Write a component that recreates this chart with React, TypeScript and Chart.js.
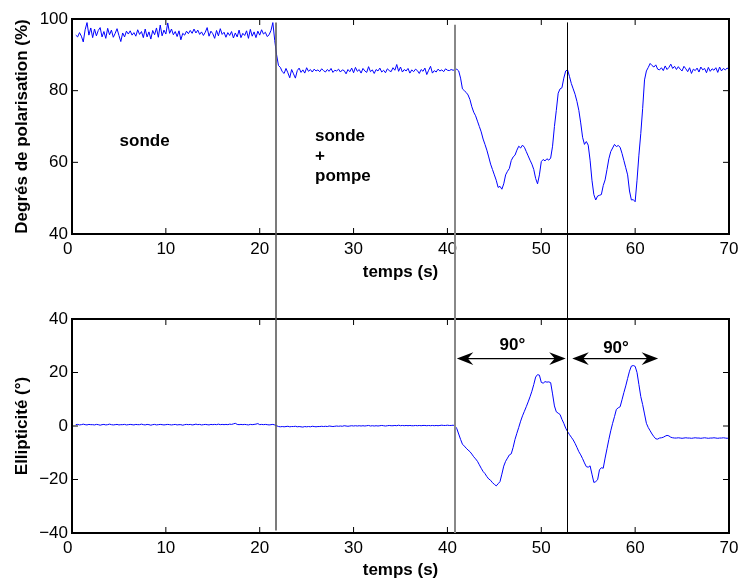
import React, { useEffect, useRef } from "react";
import { Chart, registerables } from "chart.js";

Chart.register(...registerables);

// ---- data -----------------------------------------------------------------
const T_START = 0.4; // s, first sample
const T_STEP = 0.2; // s, sampling step

// Degré de polarisation (%)
const polarisation = [
  95.5, 95.0, 96.2, 95.2, 93.6, 97.0, 99.0, 95.5, 97.5, 94.8,
  97.2, 95.3, 96.8, 97.6, 95.0, 96.5, 94.6, 97.4, 95.6, 96.9,
  94.9, 96.0, 97.3, 95.4, 93.7, 96.1, 95.0, 96.6, 95.8, 96.7,
  95.5, 96.2, 95.2, 97.0, 95.7, 96.5, 94.8, 97.2, 95.0, 96.4,
  94.4, 96.8, 95.6, 97.5, 94.9, 98.3, 95.3, 96.9, 95.8, 98.9,
  96.0, 97.2, 95.6, 96.5, 95.1, 96.7, 94.2, 96.0, 95.5, 96.6,
  95.9, 96.8, 96.0, 97.2, 96.1, 96.9, 95.7, 96.4, 95.4, 96.3,
  97.6, 95.2, 96.6, 95.9, 94.6, 96.8, 95.3, 97.3, 95.7, 96.3,
  94.9, 96.2, 95.4, 96.5, 94.7, 96.1, 95.0, 96.9, 94.8, 96.0,
  95.4, 96.7, 94.6, 97.1, 95.2, 96.4, 94.8, 96.6, 95.5, 97.0,
  95.8, 96.3, 95.1, 95.6, 96.8, 99.0, 94.0, 90.0, 87.0, 86.5,
  85.3, 84.8, 86.2, 85.0, 83.6, 85.9, 84.7, 83.5, 85.6, 86.3,
  85.1, 85.8, 84.9, 86.4, 85.4, 85.9, 85.2, 86.0, 85.5, 85.8,
  85.3, 86.1, 85.6, 85.2, 85.9, 85.4, 86.2, 85.1, 85.7, 85.5,
  86.0, 85.2, 85.8, 85.6, 84.7, 85.9, 85.3, 86.3, 85.0, 86.5,
  85.4, 85.9, 84.9, 86.2, 85.5, 85.1, 86.7, 85.3, 85.8, 84.8,
  85.9, 85.5, 86.3, 85.2, 85.7, 85.0, 86.1, 85.6, 85.3, 86.4,
  85.7, 87.3, 85.4, 86.6, 85.2, 85.9, 85.5, 86.2, 84.9, 85.8,
  85.3, 86.0, 85.6, 84.8, 85.9, 85.4, 86.3, 84.5, 85.7, 86.8,
  84.9, 85.6, 85.2, 86.0, 85.5, 85.8, 85.3, 86.1, 85.7, 85.6,
  85.9, 85.7, 85.8, 86.0, 85.5, 83.5, 80.5, 80.0, 79.5, 78.8,
  77.5, 75.5, 74.0, 73.0, 71.5, 70.0, 68.5, 66.5, 65.0, 63.4,
  61.5, 59.5, 58.0, 56.5, 55.0, 53.0, 53.3, 52.5, 54.0, 56.5,
  57.5, 58.3, 60.5, 61.5, 62.0, 63.4, 64.5, 64.0, 64.8, 64.2,
  63.0, 61.8, 60.6, 59.5, 58.0, 55.5, 54.0, 56.5, 60.2, 60.8,
  60.4, 61.0, 60.6, 61.2, 64.5, 70.0, 74.5, 79.3, 80.5, 80.8,
  83.5, 85.5, 85.8, 84.0, 82.0, 80.5, 79.0, 77.0, 74.5, 71.0,
  67.0, 65.0, 65.8, 64.8, 60.6, 55.0, 51.0, 49.5, 50.6, 50.8,
  51.0, 53.5, 55.1, 58.0, 61.0, 63.0, 64.0, 65.0, 64.4, 64.7,
  64.2, 62.5, 60.5, 58.5, 56.5, 52.0, 49.5, 49.6, 49.0, 55.0,
  62.0, 68.0, 75.0, 83.0, 85.5, 86.5, 87.6, 87.0, 86.6, 87.2,
  86.0, 85.8, 86.4, 85.6, 86.9, 85.9, 86.5, 87.4, 86.2, 86.8,
  85.9, 86.7, 86.0, 85.5, 86.8, 86.1, 85.3, 86.4, 84.8, 86.0,
  85.6, 86.3, 85.2, 86.6, 85.8, 86.2, 85.0, 86.5, 85.4, 86.1,
  85.7, 86.4, 85.1, 86.6, 85.5, 86.2, 85.8, 86.3, 85.9,
];

// Ellipticité (°)
const ellipticite = [
  0.5, 0.6, 0.4, 0.5, 0.7, 0.5, 0.4, 0.6, 0.5, 0.5,
  0.4, 0.6, 0.5, 0.3, 0.5, 0.6, 0.4, 0.5, 0.7, 0.5,
  0.4, 0.5, 0.6, 0.4, 0.5, 0.5, 0.6, 0.4, 0.5, 0.6,
  0.5, 0.4, 0.6, 0.5, 0.5, 0.7, 0.5, 0.4, 0.6, 0.5,
  0.3, 0.5, 0.6, 0.4, 0.5, 0.6, 0.5, 0.4, 0.5, 0.6,
  0.5, 0.4, 0.5, 0.6, 0.4, 0.5, 0.5, 0.3, 0.5, 0.6,
  0.5, 0.6, 0.4, 0.5, 0.7, 0.5, 0.6, 0.4, 0.5, 0.6,
  0.5, 0.4, 0.6, 0.5, 0.6, 0.5, 0.7, 0.5, 0.6, 0.5,
  0.6, 0.5, 0.7, 0.6, 0.8, 1.0, 0.6, 0.5, 0.6, 0.5,
  0.6, 0.5, 0.4, 0.6, 0.5, 0.6, 0.7, 0.9, 0.5, 0.6,
  0.5, 0.6, 0.5, 0.4, 0.5, 0.6, 0.4, 0.1, -0.2, -0.3,
  -0.2, -0.3, -0.2, -0.1, -0.3, -0.2, -0.2, -0.1, -0.3, -0.2,
  -0.3, -0.4, -0.2, -0.3, -0.2, -0.3, -0.1, -0.2, -0.3, -0.2,
  -0.2, -0.1, -0.2, -0.1, -0.2, 0.0, -0.1, -0.2, -0.1, 0.0,
  -0.1, 0.0, -0.1, 0.1, 0.0, -0.1, 0.0, 0.1, 0.0, 0.1,
  0.0, 0.1, 0.0, 0.1, 0.0, 0.1, 0.2, 0.0, 0.1, 0.0,
  0.1, 0.0, 0.1, 0.2, 0.1, 0.0, 0.1, 0.2, 0.1, 0.1,
  0.2, 0.1, 0.3, 0.1, 0.2, 0.1, 0.2, 0.1, 0.2, 0.1,
  0.1, 0.2, 0.1, 0.2, 0.1, 0.2, 0.2, 0.1, 0.2, 0.1,
  0.2, 0.1, 0.2, 0.1, 0.2, 0.3, 0.2, 0.2, 0.3, 0.2,
  0.2, 0.3, 0.1, -1.0, -3.0, -5.0, -6.8, -7.5, -8.3, -9.0,
  -9.6, -10.5, -11.5, -12.3, -13.2, -14.5, -15.8, -17.0, -17.8, -18.9,
  -19.8, -20.3, -21.2, -21.8, -22.4, -21.6, -20.8, -18.0, -15.0, -13.2,
  -12.0, -10.8, -10.4, -8.0, -5.0, -2.7, -0.5, 1.8, 3.8, 5.5,
  7.2, 9.0, 10.9, 13.0, 15.5, 18.3, 19.2, 19.0, 16.3, 16.0,
  16.6, 16.4, 16.5, 16.2, 12.0, 7.5, 5.3, 4.8, 4.3, 2.5,
  1.0, -0.8, -2.1, -3.2, -4.2, -5.2, -6.5, -8.0, -9.6, -10.8,
  -12.2, -13.8, -15.2, -15.4, -14.9, -18.0, -21.1, -20.8, -20.1, -16.4,
  -15.6, -15.8, -12.0, -8.5, -5.0, -1.8, 1.0, 3.5, 6.2, 6.8,
  7.2, 9.8, 12.5, 15.0, 17.8, 20.5, 22.4, 22.6, 22.3, 20.0,
  15.5, 11.0, 8.0, 4.5, 1.0, -0.6, -1.8, -3.0, -4.0, -4.8,
  -4.9, -4.5, -4.4, -4.2, -3.8, -3.5, -3.7, -4.2, -4.4, -4.5,
  -4.5, -4.4, -4.5, -4.6, -4.5, -4.4, -4.5, -4.5, -4.6, -4.5,
  -4.4, -4.5, -4.5, -4.6, -4.5, -4.4, -4.5, -4.6, -4.5, -4.5,
  -4.4, -4.5, -4.6, -4.5, -4.5, -4.4, -4.5, -4.6, -4.5,
];

const timeTicks = [0, 10, 20, 30, 40, 50, 60, 70];
const polarisationTicks = [40, 60, 80, 100];
const ellipticiteTicks = [-40, -20, 0, 20, 40];

// vertical event markers (s)
const eventTimes = [21.7, 40.8, 52.7];
const eventTopLevel = [99.05, 98.4, 99.05]; // where each marker starts (top panel, %)
const eventBottomLevel = [-39.1, -40, -40]; // where each marker ends (bottom panel, °)

// 90° rotation arrows (bottom panel)
const rotationFrom = [41.0, 53.3];
const rotationTo = [52.6, 62.45];
const rotationLabels = ["90°", "90°"];

// ---- styles ---------------------------------------------------------------
const FONT = '"Liberation Sans", Arial, Helvetica, sans-serif';
const FONT_SIZE = 17;
const eventColors = ["#5a5a5a", "#888888", "#000000"];
const eventWidths = [1.6, 2, 1];
const ARROW_LEVEL = 25.2;
const ARROW_LABEL_POS = [
  { t: 46.93, v: 28.3 },
  { t: 57.96, v: 27.4 },
];
const PHASE_TEXT = [
  { lines: ["sonde"], t: 7.74, v: 64.5, align: "center" as CanvasTextAlign },
  { lines: ["sonde", "+", "pompe"], t: 25.89, v: 65.9, align: "left" as CanvasTextAlign },
];

const times = polarisation.map((_, i) => Math.round((T_START + i * T_STEP) * 10) / 10);

const minusFmt = (v: number) => (v < 0 ? "\u2212" + Math.abs(v) : String(v));
// the "0" at the origin sits slightly left of the axis in the original
const timeFmt = (v: number) => (v === 0 ? "0\u2002" : String(v));

const framePlugin = {
  id: "frame",
  afterDatasetsDraw(chart: any) {
    const { ctx, chartArea } = chart;
    const { left, right, top, bottom } = chartArea;
    const xs = chart.scales.x;
    const ys = chart.scales.y;
    const TL = 6;
    ctx.save();
    ctx.strokeStyle = "#000";
    ctx.lineWidth = 1;
    ctx.beginPath();
    xs.ticks.forEach((t: any) => {
      const px = xs.getPixelForValue(t.value);
      ctx.moveTo(px, bottom);
      ctx.lineTo(px, bottom - TL);
      ctx.moveTo(px, top);
      ctx.lineTo(px, top + TL);
    });
    ys.ticks.forEach((t: any) => {
      const py = ys.getPixelForValue(t.value);
      ctx.moveTo(left, py);
      ctx.lineTo(left + TL, py);
      ctx.moveTo(right, py);
      ctx.lineTo(right - TL, py);
    });
    ctx.stroke();
    ctx.lineWidth = 2;
    ctx.strokeRect(left, top, right - left, bottom - top);
    ctx.restore();
  },
};

function eventPlugin(panel: "top" | "bottom") {
  return {
    id: "events-" + panel,
    afterDraw(chart: any) {
      const { ctx } = chart;
      const xs = chart.scales.x;
      const ys = chart.scales.y;
      ctx.save();
      eventTimes.forEach((t, i) => {
        const px = Math.round(xs.getPixelForValue(t)) + (eventWidths[i] === 1 ? 0.5 : 0);
        const y0 = panel === "top" ? ys.getPixelForValue(eventTopLevel[i]) : 0;
        const y1 = panel === "top" ? chart.height : ys.getPixelForValue(eventBottomLevel[i]);
        ctx.strokeStyle = eventColors[i];
        ctx.lineWidth = eventWidths[i];
        ctx.beginPath();
        ctx.moveTo(px, y0);
        ctx.lineTo(px, y1);
        ctx.stroke();
      });
      ctx.restore();
    },
  };
}

const phaseTextPlugin = {
  id: "phaseText",
  afterDraw(chart: any) {
    const { ctx } = chart;
    const xs = chart.scales.x;
    const ys = chart.scales.y;
    ctx.save();
    ctx.fillStyle = "#000";
    ctx.font = `bold ${FONT_SIZE}px ${FONT}`;
    ctx.textBaseline = "alphabetic";
    PHASE_TEXT.forEach((p) => {
      ctx.textAlign = p.align;
      const x = xs.getPixelForValue(p.t);
      const y = ys.getPixelForValue(p.v);
      p.lines.forEach((line, k) => ctx.fillText(line, x, y + k * 20));
    });
    ctx.restore();
  },
};

function drawHead(ctx: CanvasRenderingContext2D, tx: number, y: number, dir: number) {
  const L = 16.5;
  const W = 6.3;
  const N = 11;
  ctx.beginPath();
  ctx.moveTo(tx, y);
  ctx.lineTo(tx - dir * L, y - W);
  ctx.lineTo(tx - dir * N, y);
  ctx.lineTo(tx - dir * L, y + W);
  ctx.closePath();
  ctx.fill();
}

const arrowPlugin = {
  id: "arrows",
  afterDraw(chart: any) {
    const { ctx } = chart;
    const xs = chart.scales.x;
    const ys = chart.scales.y;
    ctx.save();
    ctx.strokeStyle = "#000";
    ctx.fillStyle = "#000";
    ctx.lineWidth = 1.4;
    const y = ys.getPixelForValue(ARROW_LEVEL);
    rotationFrom.forEach((t0, i) => {
      const x0 = xs.getPixelForValue(t0);
      const x1 = xs.getPixelForValue(rotationTo[i]);
      ctx.beginPath();
      ctx.moveTo(x0 + 8, y);
      ctx.lineTo(x1 - 8, y);
      ctx.stroke();
      drawHead(ctx, x0, y, -1);
      drawHead(ctx, x1, y, 1);
    });
    ctx.font = `bold ${FONT_SIZE}px ${FONT}`;
    ctx.textAlign = "center";
    ctx.textBaseline = "alphabetic";
    rotationLabels.forEach((lab, i) => {
      ctx.fillText(lab, xs.getPixelForValue(ARROW_LABEL_POS[i].t), ys.getPixelForValue(ARROW_LABEL_POS[i].v));
    });
    ctx.restore();
  },
};

function buildConfig(opts: {
  values: number[];
  yMin: number;
  yMax: number;
  yTicks: number[];
  yTitle: string;
  padTop: number;
  xHeight: number;
  xTitlePad: number;
  plugins: any[];
}): any {
  const tickFont = { family: FONT, size: FONT_SIZE, lineHeight: 1 };
  const titleFont = { family: FONT, size: FONT_SIZE, weight: "bold" as const, lineHeight: 1 };
  return {
    type: "line",
    data: {
      datasets: [
        {
          data: times.map((t, i) => ({ x: t, y: opts.values[i] })),
          borderColor: "#0000ff",
          borderWidth: 1,
          pointRadius: 0,
          tension: 0,
          fill: false,
        },
      ],
    },
    options: {
      responsive: false,
      animation: false,
      devicePixelRatio: 1,
      events: [],
      layout: { padding: { top: opts.padTop, right: 12, bottom: 0, left: 0 } },
      plugins: { legend: { display: false }, tooltip: { enabled: false } },
      scales: {
        x: {
          type: "linear",
          min: 0,
          max: 70,
          afterBuildTicks: (s: any) => {
            s.ticks = timeTicks.map((v) => ({ value: v }));
          },
          afterFit: (s: any) => {
            s.height = opts.xHeight;
            s.paddingLeft = 0;
            s.paddingRight = 0;
          },
          grid: { display: false, drawTicks: false },
          border: { display: false },
          ticks: {
            padding: 7,
            color: "#000",
            font: tickFont,
            maxRotation: 0,
            autoSkip: false,
            callback: (v: number) => timeFmt(v),
          },
          title: {
            display: true,
            text: "temps (s)",
            color: "#000",
            font: titleFont,
            padding: { top: 0, bottom: opts.xTitlePad },
          },
        },
        y: {
          type: "linear",
          min: opts.yMin,
          max: opts.yMax,
          afterBuildTicks: (s: any) => {
            s.ticks = opts.yTicks.map((v) => ({ value: v }));
          },
          afterFit: (s: any) => {
            s.width = 72;
            s.paddingTop = 0;
            s.paddingBottom = 0;
          },
          grid: { display: false, drawTicks: false },
          border: { display: false },
          ticks: {
            padding: 4,
            color: "#000",
            font: tickFont,
            autoSkip: false,
            callback: (v: number) => minusFmt(v),
          },
          title: {
            display: true,
            text: opts.yTitle,
            color: "#000",
            font: titleFont,
            padding: { top: 13.5, bottom: 0 },
          },
        },
      },
    },
    plugins: [framePlugin, ...opts.plugins],
  };
}

export default function App() {
  const topRef = useRef<HTMLCanvasElement | null>(null);
  const bottomRef = useRef<HTMLCanvasElement | null>(null);

  useEffect(() => {
    if (!topRef.current || !bottomRef.current) return;
    const top = new Chart(
      topRef.current,
      buildConfig({
        values: polarisation,
        yMin: 40,
        yMax: 100,
        yTicks: polarisationTicks,
        yTitle: "Degrés de polarisation (%)",
        padTop: 19,
        xHeight: 56,
        xTitlePad: 9.5,
        plugins: [eventPlugin("top"), phaseTextPlugin],
      })
    );
    const bottom = new Chart(
      bottomRef.current,
      buildConfig({
        values: ellipticite,
        yMin: -40,
        yMax: 40,
        yTicks: ellipticiteTicks,
        yTitle: "Ellipticité (°)",
        padTop: 29,
        xHeight: 46,
        xTitlePad: 0.5,
        plugins: [eventPlugin("bottom"), arrowPlugin],
      })
    );
    return () => {
      top.destroy();
      bottom.destroy();
    };
  }, []);

  return (
    <div style={{ position: "absolute", left: 0, top: 0, width: 741, height: 579, background: "#fff" }}>
      <canvas
        ref={topRef}
        width={741}
        height={290}
        style={{ position: "absolute", left: 0, top: 0, width: 741, height: 290 }}
      />
      <canvas
        ref={bottomRef}
        width={741}
        height={289}
        style={{ position: "absolute", left: 0, top: 290, width: 741, height: 289 }}
      />
    </div>
  );
}
